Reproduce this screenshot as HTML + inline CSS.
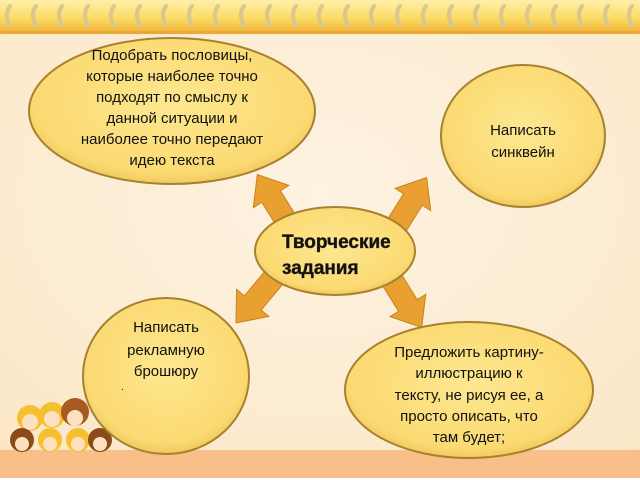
<!DOCTYPE html>
<html><head><meta charset="utf-8"><style>
body{margin:0;width:640px;height:480px;overflow:hidden;background:#fdf0da}
svg{display:block}
text{font-family:"Liberation Sans","DejaVu Sans",sans-serif;fill:#111}
</style></head><body>
<svg width="640" height="480" viewBox="0 0 640 480">
<defs>
<radialGradient id="bg" cx="0.5" cy="0.4" r="0.8"><stop offset="0" stop-color="#fdf3e2"/><stop offset="1" stop-color="#fbe6c4"/></radialGradient>
<radialGradient id="el" cx="0.5" cy="0.45" r="0.6"><stop offset="0" stop-color="#fde790"/><stop offset="0.8" stop-color="#fbda72"/><stop offset="1" stop-color="#e8bc50"/></radialGradient>
<linearGradient id="top" x1="0" y1="0" x2="0" y2="1"><stop offset="0" stop-color="#fff0a8"/><stop offset="0.6" stop-color="#fbd860"/><stop offset="1" stop-color="#f0b030"/></linearGradient>
</defs>
<rect width="640" height="480" fill="url(#bg)"/>
<rect x="0" y="0" width="640" height="33" fill="url(#top)"/>
<rect x="0" y="31" width="640" height="3" fill="#eaa838"/>
<g fill="none" stroke="#d8c890" stroke-width="4" stroke-linecap="round">
<path d="M10 6 q-6 8 0 20"/><path d="M36 6 q-6 8 0 20"/><path d="M62 6 q-6 8 0 20"/><path d="M88 6 q-6 8 0 20"/><path d="M114 6 q-6 8 0 20"/><path d="M140 6 q-6 8 0 20"/><path d="M166 6 q-6 8 0 20"/><path d="M192 6 q-6 8 0 20"/><path d="M218 6 q-6 8 0 20"/><path d="M244 6 q-6 8 0 20"/><path d="M270 6 q-6 8 0 20"/><path d="M296 6 q-6 8 0 20"/><path d="M322 6 q-6 8 0 20"/><path d="M348 6 q-6 8 0 20"/><path d="M374 6 q-6 8 0 20"/><path d="M400 6 q-6 8 0 20"/><path d="M426 6 q-6 8 0 20"/><path d="M452 6 q-6 8 0 20"/><path d="M478 6 q-6 8 0 20"/><path d="M504 6 q-6 8 0 20"/><path d="M530 6 q-6 8 0 20"/><path d="M556 6 q-6 8 0 20"/><path d="M582 6 q-6 8 0 20"/><path d="M608 6 q-6 8 0 20"/><path d="M632 6 q-6 8 0 20"/>
</g>
<rect x="0" y="450" width="640" height="28" fill="#f8c088"/>
<rect x="0" y="478" width="640" height="2" fill="#fff"/>
<g>
<circle cx="30" cy="418" r="13" fill="#f5c030"/><circle cx="52" cy="415" r="13" fill="#f5c030"/><circle cx="75" cy="412" r="14" fill="#a85a20"/><circle cx="22" cy="440" r="12" fill="#8a4a1a"/><circle cx="50" cy="440" r="12" fill="#f5c030"/><circle cx="78" cy="440" r="12" fill="#f5c030"/><circle cx="100" cy="440" r="12" fill="#8a4a1a"/>
<circle cx="30" cy="422" r="8" fill="#fde0c0"/><circle cx="52" cy="419" r="8" fill="#fde0c0"/><circle cx="75" cy="418" r="8" fill="#fde0c0"/><circle cx="22" cy="444" r="7" fill="#fde0c0"/><circle cx="50" cy="444" r="7" fill="#fde0c0"/><circle cx="78" cy="444" r="7" fill="#fde0c0"/><circle cx="100" cy="444" r="7" fill="#fde0c0"/>
</g>
<g fill="#eaa030" stroke="#c88020" stroke-width="1">
<polygon points="-11,8 11,8 11,-30 21,-30 0,-56 -21,-30 -11,-30" transform="translate(287,222) rotate(-32)"/>
<polygon points="-11,8 11,8 11,-30 21,-30 0,-56 -21,-30 -11,-30" transform="translate(397,225) rotate(32)"/>
<polygon points="-11,8 11,8 11,-30 21,-30 0,-56 -21,-30 -11,-30" transform="translate(272,280) rotate(-140)"/>
<polygon points="-11,8 11,8 11,-30 21,-30 0,-56 -21,-30 -11,-30" transform="translate(392,280) rotate(148)"/>
</g>
<g stroke="#a88030" stroke-width="2" fill="url(#el)">
<ellipse cx="172" cy="111" rx="143" ry="73"/>
<ellipse cx="523" cy="136" rx="82" ry="71"/>
<ellipse cx="166" cy="376" rx="83" ry="78"/>
<ellipse cx="469" cy="390" rx="124" ry="68"/>
<ellipse cx="335" cy="251" rx="80" ry="44"/>
</g>
<g font-size="15" text-anchor="middle">
<text x="172" y="60">Подобрать пословицы,</text>
<text x="172" y="81">которые наиболее точно</text>
<text x="172" y="102">подходят по смыслу к</text>
<text x="172" y="123">данной ситуации и</text>
<text x="172" y="144">наиболее точно передают</text>
<text x="172" y="165">идею текста</text>
<text x="523" y="135">Написать</text>
<text x="523" y="157">синквейн</text>
<text x="166" y="332">Написать</text>
<text x="166" y="355">рекламную</text>
<text x="166" y="376">брошюру</text>
<text x="469" y="357">Предложить картину-</text>
<text x="469" y="378">иллюстрацию к</text>
<text x="469" y="400">тексту, не рисуя ее, а</text>
<text x="469" y="421">просто описать, что</text>
<text x="469" y="442">там будет;</text>
</g>
<text x="121" y="390" font-size="10">.</text>
<g font-size="19" font-weight="bold" fill="#3a2a18" style="paint-order:stroke" stroke="#7a6040" stroke-width="0.6">
<text x="282" y="248">Творческие</text>
<text x="282" y="274">задания</text>
</g>
</svg>
</body></html>
